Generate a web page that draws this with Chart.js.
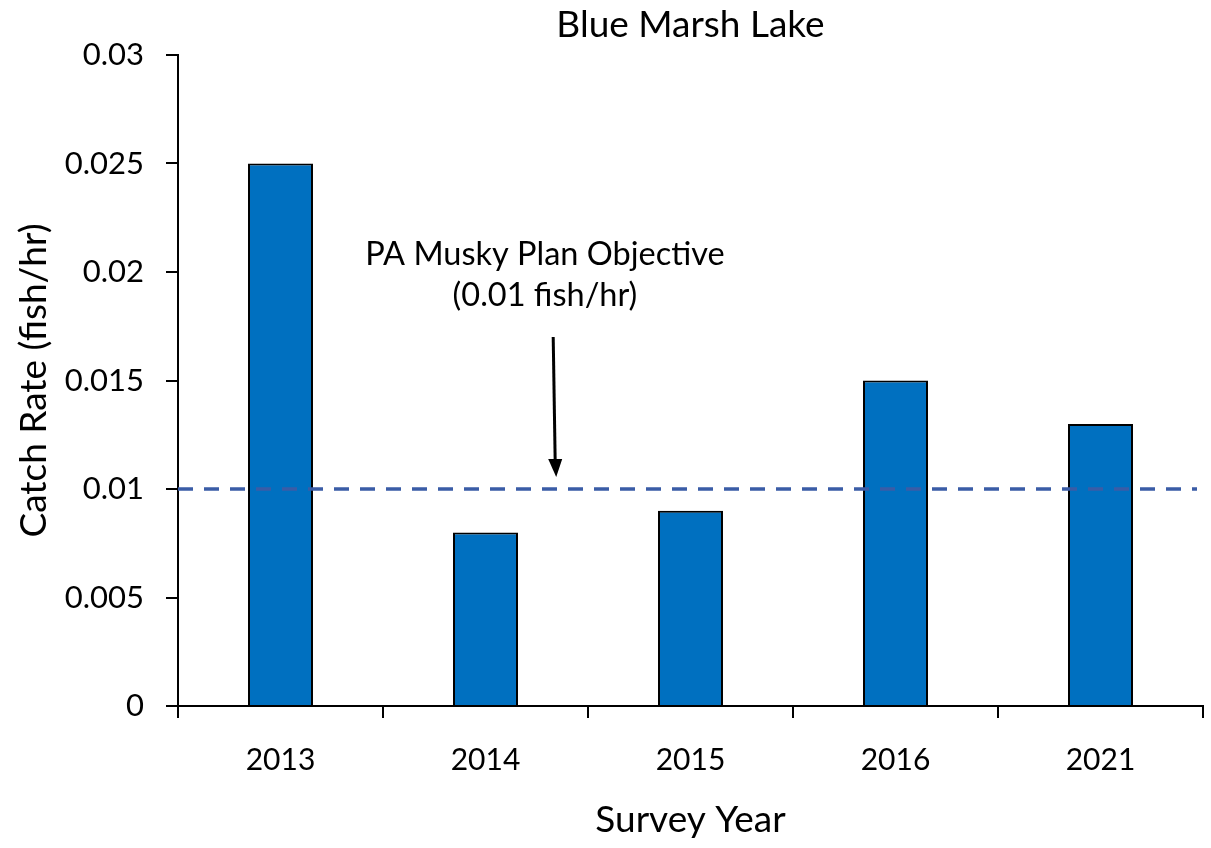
<!DOCTYPE html>
<html>
<head>
<meta charset="utf-8">
<script src="https://cdn.jsdelivr.net/npm/chart.js@4.4.1/dist/chart.umd.min.js"></script>
<style>
  html, body { margin: 0; padding: 0; background: #fff; }
  #wrap { width: 1211px; height: 848px; }
</style>
</head>
<body>
<div id="wrap"><canvas id="catchChart"></canvas></div>
<script>
// survey data
const years = ['2013', '2014', '2015', '2016', '2021'];
const catchRates = [0.025, 0.008, 0.009, 0.015, 0.013];
const yMin = 0;
const yMax = 0.03;
const yStep = 0.005;
const objectiveRate = 0.01;
const objectiveLabel = ['PA Musky Plan Objective', '(0.01 fish/hr)'];

const FONT = 'Lato, "Open Sans", sans-serif';

// dashed objective line + arrow + label
const objectivePlugin = {
	id: 'objective',
	afterDatasetsDraw(chart) {
		const ctx = chart.ctx;
		const area = chart.chartArea;
		const xs = chart.scales.x;
		const ys = chart.scales.y;
		const y = ys.getPixelForValue(objectiveRate);

		ctx.save();
		ctx.strokeStyle = '#3A5CA6';
		ctx.lineWidth = 3.5;
		ctx.setLineDash([15, 11]);
		ctx.beginPath();
		ctx.moveTo(area.left, y);
		ctx.lineTo(area.right - 6, y);
		ctx.stroke();

		// arrow between 2014 and 2015
		const step = xs.getPixelForValue(2) - xs.getPixelForValue(1);
		const ax = xs.getPixelForValue(1) + 0.34 * step;
		const top = ys.getPixelForValue(0.017);
		const tip = y - 12;
		ctx.setLineDash([]);
		ctx.strokeStyle = '#000';
		ctx.lineWidth = 3;
		ctx.beginPath();
		ctx.moveTo(ax - 2, top);
		ctx.lineTo(ax, tip - 14);
		ctx.stroke();
		ctx.fillStyle = '#000';
		ctx.beginPath();
		ctx.moveTo(ax - 7, tip - 18);
		ctx.lineTo(ax + 7, tip - 18);
		ctx.lineTo(ax + 1, tip);
		ctx.closePath();
		ctx.fill();

		// label text
		const tx = xs.getPixelForValue(1) + 0.29 * step;
		ctx.font = '32.5px ' + FONT;
		ctx.textAlign = 'center';
		ctx.textBaseline = 'middle';
		ctx.fillText(objectiveLabel[0], tx, ys.getPixelForValue(0.0208));
		ctx.fillText(objectiveLabel[1], tx, ys.getPixelForValue(0.0189));
		ctx.restore();
	} //end of afterDatasetsDraw
};

const config = {
	type: 'bar',
	data: {
		labels: years,
		datasets: [{
			label: 'Catch Rate',
			data: catchRates,
			backgroundColor: '#0070C0',
			borderColor: '#000000',
			borderWidth: 2,
			categoryPercentage: 1.0,
			barPercentage: 0.317
		}]
	},
	options: {
		responsive: false,
		animation: false,
		layout: {
			padding: { left: 8, right: 8, top: 0, bottom: 0 }
		},
		plugins: {
			legend: { display: false },
			tooltip: { enabled: false },
			title: {
				display: true,
				fullSize: false,
				text: 'Blue Marsh Lake',
				color: '#000',
				font: { family: FONT, size: 37, weight: 'normal' },
				padding: { top: 3, bottom: 7.6 }
			}
		},
		scales: {
			x: {
				offset: true,
				border: { color: '#000', width: 2 },
				grid: {
					offset: true,
					drawOnChartArea: false,
					color: '#000',
					lineWidth: 2,
					tickLength: 12
				},
				ticks: {
					color: '#000',
					padding: 24,
					font: { family: FONT, size: 30 }
				},
				title: {
					display: true,
					text: 'Survey Year',
					color: '#000',
					font: { family: FONT, size: 37 },
					padding: { top: 4, bottom: 6 }
				},
				afterFit: function(scale) { scale.height = 142; }
			},
			y: {
				min: yMin,
				max: yMax,
				border: { color: '#000', width: 2 },
				grid: {
					drawOnChartArea: false,
					color: '#000',
					lineWidth: 2,
					tickLength: 12
				},
				ticks: {
					stepSize: yStep,
					color: '#000',
					padding: 22,
					font: { family: FONT, size: 31 },
					callback: function(v) { return String(Number(v.toFixed(3))); }
				},
				title: {
					display: true,
					text: 'Catch Rate (fish/hr)',
					color: '#000',
					font: { family: FONT, size: 37 },
					padding: { top: 4, bottom: 4 }
				},
				afterFit: function(scale) { scale.width = 170; }
			}
		} //end of scales
	}, //end of options
	plugins: [objectivePlugin]
}; //end of config

const canvas = document.getElementById('catchChart');
canvas.width = 1211;
canvas.height = 848;
new Chart(canvas, config);
</script>
</body>
</html>
